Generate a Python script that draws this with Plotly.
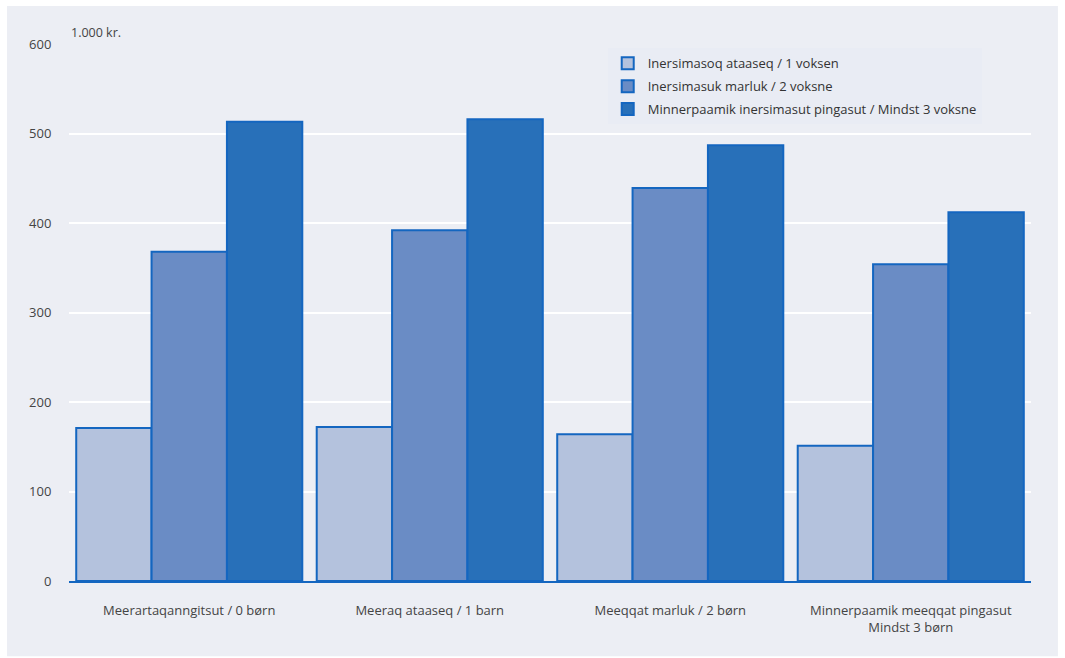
import plotly.graph_objects as go

categories = ["Meerartaqanngitsut / 0 børn", "Meeraq ataaseq / 1 barn",
              "Meeqqat marluk / 2 børn", "Minnerpaamik meeqqat pingasut<br>Mindst 3 børn"]
series_names = ["Inersimasoq ataaseq / 1 voksen",
                "Inersimasuk marluk / 2 voksne",
                "Minnerpaamik inersimasut pingasut / Mindst 3 voksne"]
voksen1 = [171, 172, 164, 151]
voksne2 = [368, 392, 439, 354]
voksne3 = [513, 516, 487, 412]
y_ticks = [0, 100, 200, 300, 400, 500, 600]
unit_label = "1.000 kr."

colors = ["#b4c2dd", "#6a8cc5", "#2870b9"]
outline = "#1466c0"

fig = go.Figure()
for i, (name, vals, col) in enumerate(zip(series_names, [voksen1, voksne2, voksne3], colors)):
    fig.add_trace(go.Bar(x=categories, y=vals, name=name, legendgroup=f"g{i}",
                         marker=dict(color=col, line=dict(color=outline, width=2))))

fig.add_shape(type="rect", xref="paper", yref="paper",
              x0=-0.0644, x1=1.028, y0=-0.14, y1=1.0708,
              fillcolor="#eceef4", line=dict(width=0), layer="below")

fig.add_annotation(text=unit_label, xref="paper", yref="paper", x=0, y=1.0,
                   xanchor="left", yanchor="bottom", showarrow=False,
                   font=dict(size=12.5, color="#444"), yshift=1)

fig.update_layout(
    width=1065, height=658,
    margin=dict(l=69, r=34, t=44, b=77),
    paper_bgcolor="white", plot_bgcolor="#e1e5ef",
    barmode="group", bargap=0.06, bargroupgap=0,
    font=dict(family="Open Sans", size=13, color="#444"),
    showlegend=True,
    legend=dict(x=0.56, y=0.992, xanchor="left", yanchor="top",
                bgcolor="#e9ecf4", font=dict(size=13, color="#333"),
                tracegroupgap=3, itemwidth=30),
    xaxis=dict(showgrid=False, showline=True, linecolor=outline, linewidth=2,
               ticks="outside", ticklen=16, tickcolor="rgba(0,0,0,0)",
               tickfont=dict(size=13, color="#444")),
    yaxis=dict(range=[0, 600], tickvals=y_ticks, showgrid=True, gridcolor="white",
               gridwidth=2, zeroline=False, showline=False,
               ticks="outside", ticklen=14, tickcolor="rgba(0,0,0,0)",
               tickfont=dict(size=13, color="#444")),
)

fig.write_html("out.html", config={"displayModeBar": False},
               post_script="document.body.style.margin='0';")
